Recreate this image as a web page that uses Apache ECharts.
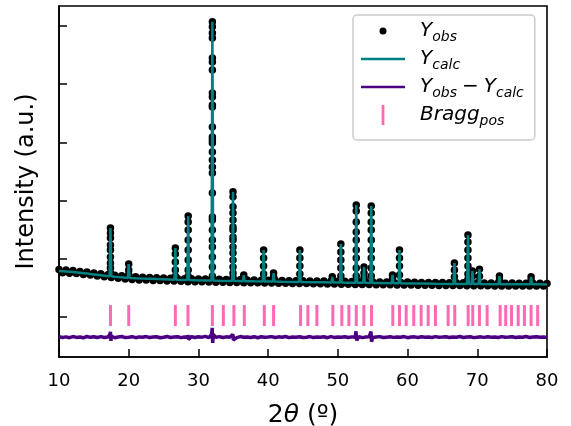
<!DOCTYPE html>
<html>
<head>
<meta charset="utf-8">
<script src="https://cdn.jsdelivr.net/npm/echarts@6/dist/echarts.min.js"></script>
<style>
  html, body { margin: 0; padding: 0; background: #ffffff; }
  #chart { width: 571px; height: 426px; }
</style>
</head>
<body>
<div id="chart"></div>
<script>
// ---- X-ray powder pattern: observed, calculated, difference, reflections ----

// 2θ range and ticks
const xTicks = [10, 20, 30, 40, 50, 60, 70, 80];
const yTicks = [0, 1000, 2000, 3000, 4000, 5000];

// Observed background counts, one value every 0.5° from 10° to 80°
const obsStart = 10;
const obsStep = 0.5;
const obsBackground = [
  815, 762, 806, 752, 798, 746, 780, 730, 773, 720,
  757, 705, 744, 690, 726, 678, 716, 665, 707, 655,
  697, 645, 690, 637, 684, 634, 680, 628, 676, 627,
  672, 620, 667, 621, 663, 613, 659, 608, 656, 607,
  654, 604, 652, 601, 650, 599, 647, 597, 644, 594,
  641, 593, 640, 590, 636, 589, 634, 587, 632, 585,
  633, 584, 630, 581, 627, 579, 625, 577, 623, 575,
  624, 574, 621, 572, 619, 570, 617, 567, 615, 566,
  616, 564, 613, 562, 611, 560, 608, 558, 606, 557,
  607, 556, 602, 554, 600, 553, 598, 551, 597, 550,
  600, 548, 596, 546, 594, 545, 592, 544, 591, 543,
  593, 542, 590, 541, 588, 540, 587, 539, 586, 538,
  589, 537, 585, 536, 584, 535, 583, 535, 582, 534,
  585, 533, 581, 533, 580, 532, 579, 532, 579, 531,
  578
];

// Reflections: position (2θ), peak maximum, local background
const peakAngle = [17.38, 20.0, 26.69, 28.53, 32.0, 34.96, 36.5, 39.35, 40.78, 44.55, 49.2, 50.43,
                   52.64, 53.75, 54.79, 57.84, 58.84, 66.72, 68.66, 69.3, 70.31, 73.18, 77.72];
const peakTop   = [1529, 911, 1186, 1735, 5074, 2153, 720, 1151, 756, 1151, 690, 1254,
                   1924, 859, 1907, 722, 1151, 928, 1409, 790, 820, 704, 690];
const peakBase  = [700, 672, 641, 635, 626, 620, 616, 611, 609, 602, 594, 592,
                   589, 587, 585, 580, 579, 569, 567, 566, 566, 564, 562];

// Observed points recorded on each reflection (same order as peakAngle)
const peakDots = [
  [1529, 1443, 1357, 1237, 1151, 1031, 928, 842, 756],
  [911, 808, 730],
  [1186, 1082, 945, 808, 700],
  [1735, 1632, 1495, 1323, 1151, 979, 808, 700],
  [5074, 4988, 4880, 4794, 4450, 4381, 4244, 3849, 3780, 3643, 3608, 3265, 3093, 3041,
   2990, 2835, 2698, 2577, 2474, 2131, 1718, 1667, 1495, 1323, 1203, 1031, 859, 700],
  [2153, 2067, 1895, 1787, 1667, 1546, 1495, 1375, 1323, 1203, 1100, 979, 859, 756, 680],
  [720, 680],
  [1151, 1014, 876, 739],
  [756, 690],
  [1151, 1014, 876, 739],
  [690, 640],
  [1254, 1117, 979, 842, 704],
  [1924, 1821, 1632, 1460, 1323, 1151, 1014, 842, 704],
  [859, 756, 680],
  [1907, 1787, 1632, 1495, 1323, 1151, 1014, 842, 704],
  [722, 660],
  [1151, 1014, 876, 722],
  [928, 808, 690],
  [1409, 1289, 1151, 1014, 876, 739, 650],
  [790, 700],
  [820, 700],
  [704, 640],
  [690, 630]
];

// Calculated background (2θ, counts)
const calcBackground = [
  [10, 790], [11, 781], [12, 772], [13, 759], [14, 746], [15, 732], [16, 718], [16.9, 705],
  [18, 692], [19, 682], [21, 666], [22, 661], [24, 652], [25.8, 645], [27.5, 638], [29.5, 632],
  [31, 628], [33, 623], [34.2, 621], [35.8, 618], [38, 613], [42, 606], [43.5, 603], [46, 599],
  [48, 596], [51.5, 590], [56, 583], [60, 577], [62, 574], [64, 571], [66, 569], [67.8, 567],
  [72, 565], [76, 563], [79, 561], [80, 560]
];

// Difference curve, one value every 0.5° from 10° to 80°
const diffValues = [
  -338, -352, -341, -355, -336, -350, -343, -357, -334, -349,
  -340, -353, -337, -351, -345, -330, -356, -342, -335, -353,
  -346, -338, -355, -341, -349, -336, -352, -343, -339, -356,
  -347, -335, -351, -344, -338, -354, -342, -348, -336, -352,
  -340, -346, -333, -355, -344, -350, -337, -353, -341, -347,
  -339, -354, -336, -349, -343, -351, -338, -356, -340, -347,
  -345, -337, -352, -341, -348, -335, -354, -343, -349, -339,
  -351, -346, -336, -353, -342, -348, -340, -355, -337, -350,
  -344, -347, -338, -352, -341, -349, -336, -354, -345, -340,
  -351, -343, -337, -353, -346, -339, -350, -342, -348, -336,
  -355, -344, -341, -351, -338, -347, -343, -352, -337, -349,
  -345, -340, -353, -342, -348, -336, -351, -344, -339, -354,
  -347, -341, -350, -338, -346, -343, -352, -337, -349, -345,
  -340, -353, -342, -348, -336, -351, -344, -339, -347, -343,
  -350
];
// Misfit wiggles at the strong reflections (2θ, counts)
const diffWiggles = [
  [17.3, -300], [17.38, -255], [17.45, -410], [17.55, -350],
  [28.5, -310], [28.57, -385],
  [31.9, -300], [31.97, -185], [32.05, -445], [32.12, -300],
  [34.92, -300], [35.0, -395],
  [52.6, -245], [52.7, -400],
  [54.75, -250], [54.83, -425]
];

// Bragg reflection positions (2θ)
const braggPos = [17.38, 20.0, 26.69, 28.5, 32.0, 33.57, 35.09, 36.58, 39.45, 40.78,
                  44.65, 45.7, 46.99, 49.28, 50.57, 51.58, 52.64, 53.73, 54.83,
                  57.88, 58.84, 59.8, 60.89, 61.95, 62.96, 64.0, 65.82, 66.77,
                  68.69, 69.35, 70.31, 71.41, 73.28, 74.08, 74.91, 75.87, 76.76, 77.72, 78.66];
const braggLevel = 25;

// ---- assemble series data ----
const obsPoints = obsBackground.map((v, i) => [obsStart + i * obsStep, v]);
peakAngle.forEach((a, i) => peakDots[i].forEach(h => obsPoints.push([a, h])));

const peakHalfBase = 0.12;
const calcPoints = calcBackground.map(p => p.slice());
peakAngle.forEach((a, i) => {
  calcPoints.push([a - peakHalfBase, peakBase[i]], [a, peakTop[i]], [a + peakHalfBase, peakBase[i]]);
});
calcPoints.sort((p, q) => p[0] - q[0]);

const diffPoints = diffValues.map((v, i) => [obsStart + i * obsStep, v]).concat(diffWiggles);
diffPoints.sort((p, q) => p[0] - q[0]);

const braggPoints = braggPos.map(a => [a, braggLevel]);

// ---- chart ----
const FONT = 'DejaVu Sans';
const legendLabels = {
  'Yobs': '{m|Y}{s|obs}',
  'Ycalc': '{m|Y}{s|calc}',
  'Yobs-Ycalc': '{m|Y}{s|obs}{o|\u2212}{m|Y}{s|calc}',
  'Braggpos': '{m|Bragg}{s|pos}'
};
const iconFrame = 'M0,0h0.01M54,20h-0.01';

const chart = echarts.init(document.getElementById('chart'), null, { renderer: 'canvas' });
chart.setOption({
  animation: false,
  backgroundColor: '#ffffff',
  grid: {
    left: 59, right: 24, top: 6, bottom: 69,
    containLabel: false,
    outerBoundsMode: 'none',
    show: true, borderColor: '#000000', borderWidth: 1.6, backgroundColor: 'transparent'
  },
  xAxis: {
    type: 'value',
    min: 10, max: 80, interval: 10,
    axisLine: { show: true, onZero: false, lineStyle: { color: '#000', width: 1.6 } },
    axisTick: { show: true, inside: true, length: 8, lineStyle: { color: '#000', width: 1.5 } },
    axisLabel: {
      show: true, margin: 15, color: '#000', fontSize: 18, fontFamily: FONT,
      customValues: xTicks
    },
    splitLine: { show: false },
    name: '{n|2}{t|θ}{n| (º)}',
    nameLocation: 'middle',
    nameGap: 44,
    nameTextStyle: {
      rich: {
        n: { fontFamily: FONT, fontSize: 25, color: '#000', lineHeight: 28 },
        t: { fontFamily: FONT, fontSize: 25, fontStyle: 'italic', color: '#000', lineHeight: 28 }
      }
    }
  },
  yAxis: {
    type: 'value',
    min: -687, max: 5344,
    axisLine: { show: true, onZero: false, lineStyle: { color: '#000', width: 1.6 } },
    axisTick: {
      show: true, inside: true, length: 8, lineStyle: { color: '#000', width: 1.5 },
      customValues: yTicks
    },
    axisLabel: { show: false },
    splitLine: { show: false },
    name: 'Intensity (a.u.)',
    nameLocation: 'middle',
    nameGap: 20,
    nameTextStyle: { fontFamily: FONT, fontSize: 24, color: '#000' }
  },
  legend: {
    orient: 'vertical',
    left: 353, top: 15,
    padding: [6, 11, 12, 8],
    itemGap: 5,
    itemWidth: 54, itemHeight: 20,
    backgroundColor: '#ffffff',
    borderColor: '#cccccc',
    borderWidth: 1.5,
    borderRadius: 4,
    itemStyle: { borderWidth: 0 },
    selectedMode: false,
    data: [
      { name: 'Yobs', icon: 'path://' + iconFrame + 'M18.5,10a3.5,3.5 0 1 0 7,0a3.5,3.5 0 1 0 -7,0Z' },
      { name: 'Ycalc', icon: 'path://' + iconFrame + 'M0,8.8L44,8.8L44,11.2L0,11.2Z' },
      { name: 'Yobs-Ycalc', icon: 'path://' + iconFrame + 'M0,8.8L44,8.8L44,11.2L0,11.2Z' },
      { name: 'Braggpos', icon: 'path://' + iconFrame + 'M20.6,0L23.4,0L23.4,20L20.6,20Z' }
    ],
    formatter: name => legendLabels[name],
    textStyle: {
      rich: {
        m: { fontFamily: FONT, fontSize: 20, fontStyle: 'italic', color: '#000', lineHeight: 26 },
        s: { fontFamily: FONT, fontSize: 14, fontStyle: 'italic', color: '#000', lineHeight: 14, verticalAlign: 'bottom' },
        o: { fontFamily: FONT, fontSize: 20, color: '#000', lineHeight: 26, padding: [0, 5, 0, 5] }
      }
    }
  },
  series: [
    {
      name: 'Yobs',
      type: 'scatter',
      data: obsPoints,
      symbol: 'circle',
      symbolSize: 7.5,
      itemStyle: { color: '#000000', opacity: 1 },
      z: 2,
      silent: true
    },
    {
      name: 'Ycalc',
      type: 'line',
      data: calcPoints,
      symbol: 'none',
      showSymbol: false,
      itemStyle: { color: '#008080' },
      lineStyle: { color: '#008080', width: 2.5 },
      z: 3,
      silent: true
    },
    {
      name: 'Yobs-Ycalc',
      type: 'line',
      data: diffPoints,
      symbol: 'none',
      showSymbol: false,
      itemStyle: { color: '#4b0082' },
      lineStyle: { color: '#4b0082', width: 3.5 },
      z: 3,
      silent: true
    },
    {
      name: 'Braggpos',
      type: 'scatter',
      data: braggPoints,
      symbol: 'rect',
      symbolSize: [3, 21],
      itemStyle: { color: '#ff69b4', opacity: 1 },
      z: 2,
      silent: true
    }
  ]
});
</script>
</body>
</html>
